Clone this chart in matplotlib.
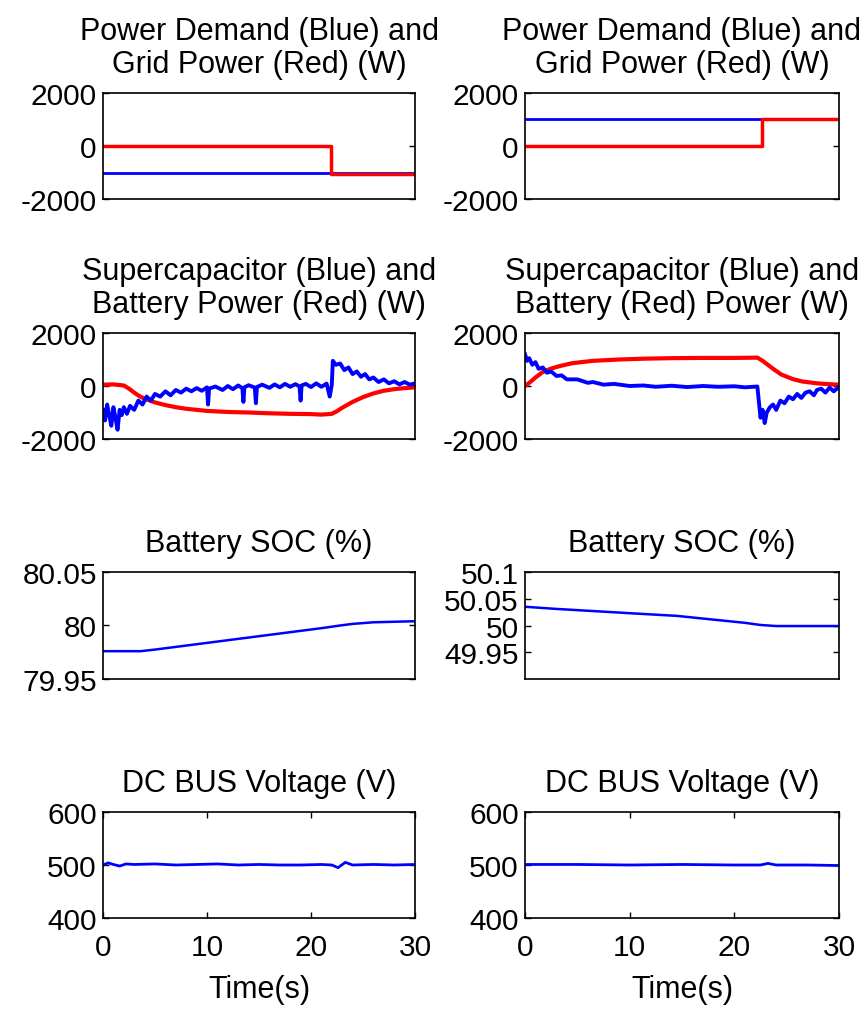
import matplotlib
matplotlib.use('Agg')
import matplotlib.pyplot as plt

plt.rcParams['font.family'] = ['Liberation Sans', 'DejaVu Sans']
plt.rcParams['axes.unicode_minus'] = False

# ---- data ----
# row 1: power demand (blue) and grid power (red)
dem_t = [0, 30]
dem_left = [-1000, -1000]
dem_right = [1000, 1000]
grid_t_left = [0, 21.9, 21.9, 30]
grid_left = [0, 0, -1040, -1040]
grid_t_right = [0, 22.6, 22.6, 30]
grid_right = [0, 0, 1000, 1000]

# row 2 left: supercapacitor (blue) and battery (red)
sc_t_left = [0.0, 0.2, 0.4, 0.6, 0.8, 1.0, 1.2, 1.4, 1.6, 1.8,
             2.0, 2.3, 2.6, 3.0, 3.4, 3.8, 4.2, 4.6, 5.0, 5.5,
             6.0, 6.5, 7.0, 7.5, 8.0, 8.5, 9.0, 9.5, 10.0, 10.1,
             10.2, 10.8, 11.5, 12.0, 12.5, 13.0, 13.4, 13.5, 13.6, 14.0,
             14.6, 14.7, 14.8, 15.3, 16.0, 16.5, 17.0, 17.5, 18.0, 18.5,
             18.9, 19.0, 19.1, 19.5, 20.0, 20.5, 21.0, 21.5, 21.8, 22.0,
             22.1, 22.4, 22.8, 23.2, 23.6, 24.0, 24.4, 24.8, 25.2, 25.6,
             26.0, 26.5, 27.0, 27.5, 28.0, 28.5, 29.0, 29.5, 30.0]
sc_left = [-900, -1300, -700, -1100, -1500, -800, -1200, -1650, -900, -1100,
           -800, -1050, -750, -900, -550, -700, -400, -550, -300, -400,
           -200, -350, -150, -250, -100, -200, -80, -180, -50, -700,
           -100, -20, -150, 0, -120, 20, -80, -600, -50, 30,
           -60, -650, -40, 50, -70, 60, -50, 80, -30, 70,
           -20, -550, 20, 80, -40, 100, -30, 90, -400, 50,
           950, 800, 850, 600, 700, 450, 550, 350, 450, 250,
           320, 150, 250, 100, 180, 60, 150, 50, 100]
bat_t_left = [0, 1, 2, 2.5, 3, 3.5, 4, 5, 6, 7,
              8, 9, 10, 12, 14, 16, 18, 20, 21, 22,
              22.5, 23, 24, 25, 26, 27, 28, 29, 30]
bat_left = [50, 60, 20, -100, -250, -380, -480, -620, -720, -800,
            -860, -900, -940, -980, -1000, -1030, -1050, -1060, -1080, -1050,
            -950, -820, -600, -420, -280, -180, -120, -80, -50]

# row 2 right
sc_t_right = [0, 0.2, 0.4, 0.7, 1.0, 1.3, 1.7, 2.1, 2.5, 3.0,
              3.5, 4.0, 5, 6, 6.5, 7.5, 8.5, 10, 11.3, 12.5,
              14, 15.5, 17, 18.5, 20, 21, 22.2, 22.5, 22.7, 22.9,
              23.1, 23.4, 23.7, 24.0, 24.4, 24.8, 25.2, 25.6, 26.0, 26.4,
              26.8, 27.2, 27.6, 27.9, 28.3, 28.7, 29.1, 29.5, 30]
sc_right = [1200, 950, 1050, 800, 900, 650, 700, 500, 550, 380,
            400, 250, 250, 120, 150, 50, 80, 0, 20, -30,
            10, -40, 0, -30, -10, -50, -20, -1200, -900, -1400,
            -1000, -800, -700, -900, -550, -650, -400, -500, -300, -450,
            -250, -200, -350, -150, -100, -250, -60, -200, -30]
bat_t_right = [0, 0.5, 1, 1.7, 2.5, 3.3, 4.5, 6.5, 9, 11.3,
               14, 17, 20, 22.2, 22.7, 23.2, 23.7, 24.5, 25.6, 26.5,
               27.9, 29, 30]
bat_right = [0, 150, 320, 530, 660, 750, 860, 950, 1000, 1030,
             1050, 1060, 1060, 1070, 950, 800, 650, 430, 260, 170,
             100, 70, 50]

# row 3: battery SOC
soc_t_left = [0, 2, 3.6, 5, 7, 9, 11, 13, 15, 17, 19, 21, 22.8, 24, 26, 28, 30]
soc_left = [79.976, 79.976, 79.976, 79.9775, 79.980, 79.9825, 79.985, 79.9875,
            79.990, 79.9925, 79.995, 79.9975, 80.000, 80.0015, 80.003, 80.0035, 80.004]
soc_t_right = [0, 3, 6.5, 10, 14.5, 18, 21, 22.5, 24, 26, 28, 30]
soc_right = [50.035, 50.031, 50.027, 50.023, 50.018, 50.011, 50.005, 50.001,
             49.999, 49.999, 49.999, 49.999]

# row 4: DC bus voltage
dc_t_left = [0, 0.5, 1, 1.6, 2.2, 3, 5, 7, 9, 11, 13,
             15, 17, 19, 21, 22, 22.6, 23.3, 24, 26, 28, 30]
dc_left = [500, 504, 501, 498, 502, 501, 502, 500, 501, 502, 500,
           501, 500, 500, 501, 500, 495, 505, 500, 501, 500, 501]
dc_t_right = [0, 5, 10, 15, 20, 22.5, 23.2, 24, 27, 30]
dc_right = [501, 501, 500, 501, 500, 500, 503, 500, 500, 499]

titles_left = ['Power Demand (Blue) and\nGrid Power (Red) (W)',
               'Supercapacitor (Blue) and\nBattery Power (Red) (W)',
               'Battery SOC (%)', 'DC BUS Voltage (V)']
titles_right = ['Power Demand (Blue) and\nGrid Power (Red) (W)',
                'Supercapacitor (Blue) and\nBattery (Red) Power (W)',
                'Battery SOC (%)', 'DC BUS Voltage (V)']

fig = plt.figure(figsize=(8.61, 10.12), dpi=100)

W, H = 861, 1012
cols = [(103, 415), (525, 839)]
rows = [(94, 200), (334, 440), (573, 680), (813, 919)]

axes = {}
for r, (top, bot) in enumerate(rows):
    for c, (lft, rgt) in enumerate(cols):
        ax = fig.add_axes([lft / W, 1 - bot / H, (rgt - lft) / W, (bot - top) / H])
        axes[(r, c)] = ax

BLUE = '#0000ff'
RED = '#ff0000'

# row 1
a = axes[(0, 0)]
a.plot(dem_t, dem_left, color=BLUE, lw=2)
a.plot(grid_t_left, grid_left, color=RED, lw=2.5)
a = axes[(0, 1)]
a.plot(dem_t, dem_right, color=BLUE, lw=2)
a.plot(grid_t_right, grid_right, color=RED, lw=2.5)

# row 2
a = axes[(1, 0)]
a.plot(bat_t_left, bat_left, color=RED, lw=3)
a.plot(sc_t_left, sc_left, color=BLUE, lw=2.8)
a = axes[(1, 1)]
a.plot(bat_t_right, bat_right, color=RED, lw=3)
a.plot(sc_t_right, sc_right, color=BLUE, lw=2.8)

for c in (0, 1):
    axes[(0, c)].set_ylim(-2000, 2000)
    axes[(0, c)].set_yticks([-2000, 0, 2000])
    axes[(1, c)].set_ylim(-2000, 2000)
    axes[(1, c)].set_yticks([-2000, 0, 2000])

# row 3
a = axes[(2, 0)]
a.plot(soc_t_left, soc_left, color=BLUE, lw=1.8)
a.set_ylim(79.95, 80.05)
a.set_yticks([79.95, 80, 80.05])
a.set_yticklabels(['79.95', '80', '80.05'])
a = axes[(2, 1)]
a.plot(soc_t_right, soc_right, color=BLUE, lw=1.8)
a.set_ylim(49.9, 50.1)
a.set_yticks([49.95, 50, 50.05, 50.1])
a.set_yticklabels(['49.95', '50', '50.05', '50.1'])

# row 4
axes[(3, 0)].plot(dc_t_left, dc_left, color=BLUE, lw=2)
axes[(3, 1)].plot(dc_t_right, dc_right, color=BLUE, lw=2)
for c in (0, 1):
    a = axes[(3, c)]
    a.set_ylim(400, 600)
    a.set_yticks([400, 500, 600])
    a.set_xticks([0, 10, 20, 30])
    a.set_xlabel('Time(s)', fontsize=22, labelpad=9)

for (r, c), a in axes.items():
    a.set_xlim(0, 30)
    if r < 3:
        a.set_xticks([])
    a.tick_params(direction='in', length=4, width=1, top=True, right=True,
                  labelsize=21.5)
    a.tick_params(axis='y', pad=4.5)
    a.tick_params(axis='x', pad=11)
    for s in a.spines.values():
        s.set_linewidth(1.2)
    t = titles_left[r] if c == 0 else titles_right[r]
    a.set_title(t, fontsize=22, pad=15, linespacing=1.15)

fig.savefig('out.png', dpi=100)
